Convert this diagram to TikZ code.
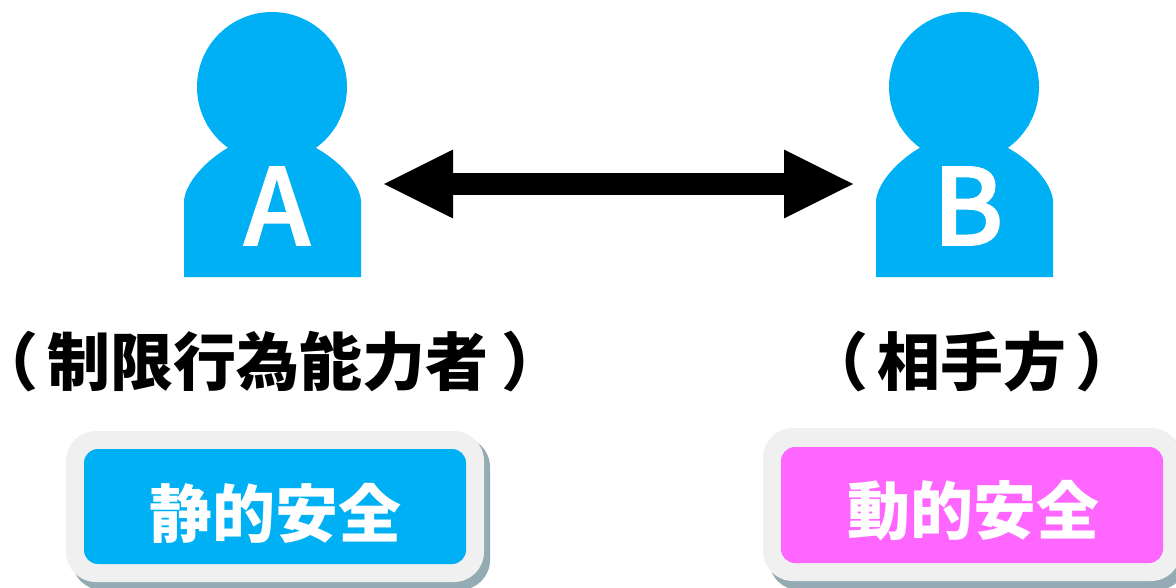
\documentclass[tikz,border=0pt]{standalone}
\usepackage{fontspec}
\usetikzlibrary{arrows.meta}
\newfontfamily\cjk{Noto Sans CJK JP}
\newfontfamily\cjkp[RawFeature=+palt]{Noto Sans CJK JP}
\newfontfamily\cjkmid[RawFeature={embolden=1.6}]{Noto Sans CJK JP Medium}
\newcommand{\lp}{{\cjkp\bfseries （}\kern6pt}
\newcommand{\rp}{{\cjkp\bfseries ）}}
\definecolor{skyb}{HTML}{00B0F4}
\definecolor{pinkb}{HTML}{FF66FF}
\definecolor{plate}{HTML}{F0F0F0}
\definecolor{slatesh}{HTML}{94ABB3}
\tikzset{
  x=0.5pt,y=-0.5pt,
  person/.style={fill=skyb,draw=none},
  letter/.style={text=white,font=\cjkmid\fontsize{53}{53}\selectfont,inner sep=0pt,anchor=base},
  caption/.style={text=black,font=\cjk\bfseries\fontsize{31.5}{36}\selectfont,inner sep=0pt},
  btext/.style={text=white,font=\cjk\bfseries\fontsize{31.5}{36}\selectfont,inner sep=0pt},
  twoway/.style={line width=11pt,{Triangle[length=35.5pt,width=31.5pt]}-{Triangle[length=35.5pt,width=31.5pt]}},
}
\newcommand{\personshape}[1]{%
  \begin{scope}[shift={(#1,0)}]
  \fill[person] (272,87) circle[radius=37.5pt];
  \fill[person] (207,125) -- (233,145)
    .. controls (213,155) and (187,178) .. (184,200) -- (184,277) -- (361,277) -- (361,200)
    .. controls (358,178) and (332,155) .. (310,145) -- (337,125) -- cycle;
  \end{scope}}
\begin{document}
\begin{tikzpicture}
\useasboundingbox (0,0) rectangle (1176,588);
\personshape{0}
\personshape{692}
\node[letter] (la) at (277,245) {A};
\node[letter] (lb) at (968,245) {B};
\coordinate (tipa) at (382,184);
\coordinate (tipb) at (855,184);
\draw[twoway] (tipa) -- (tipb);
\node[caption] (ca) at (270,362) {\lp 制限行為能力者\kern8pt\rp};
\node[caption] (cb) at (972,362) {\lp 相手方\kern6pt\rp};
% left button
\fill[slatesh,rounded corners=15pt] (72,437) rectangle (490,590);
\fill[plate,rounded corners=15pt] (66,431) rectangle (484,582);
\fill[skyb,rounded corners=7pt] (84,449) rectangle (466,564);
\node[btext] (sa) at (275,513) {静的安全};
% right button
\fill[slatesh,rounded corners=15pt] (769,434) rectangle (1187,590);
\fill[plate,rounded corners=15pt] (763,428) rectangle (1181,581);
\fill[pinkb,rounded corners=7pt] (781,447) rectangle (1163,563);
\node[btext] (sb) at (973,511) {動的安全};
\end{tikzpicture}
\end{document}
